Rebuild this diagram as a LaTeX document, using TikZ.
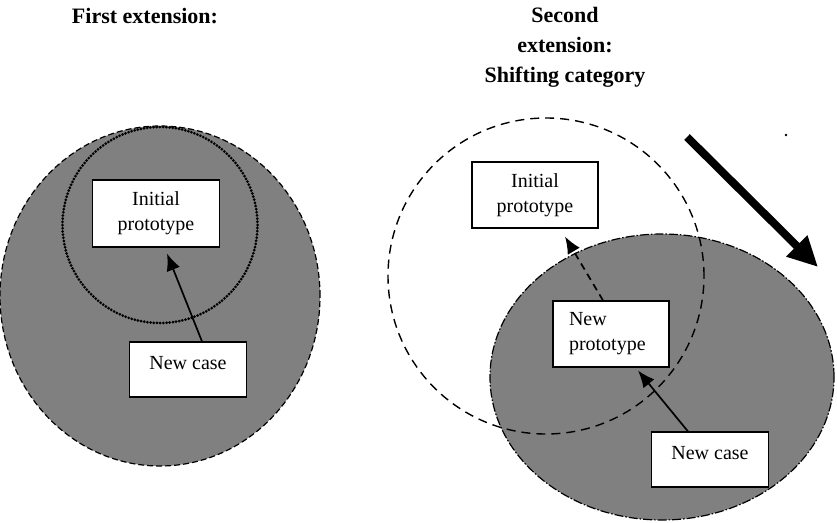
\documentclass[tikz,border=0pt]{standalone}
\usepackage{fontspec}
\setmainfont{Liberation Serif}
\usetikzlibrary{positioning}
\usetikzlibrary{arrows.meta,shapes.geometric}
\tikzset{
    every picture/.style={x=1pt,y=-1pt},
    link/.style={draw,line width=1.7pt,-{Latex[length=17pt,width=14pt]}},
    protobox/.style={draw,fill=white,line width=1.1pt,inner sep=0pt,font=\fontsize{20}{25}\selectfont},
    casebox/.style={protobox,minimum width=117pt,minimum height=55pt,text height=14pt,text depth=14pt},
    category/.style={ellipse,inner sep=0pt,line width=1.2pt},
    heading/.style={font=\bfseries\fontsize{22}{30}\selectfont,align=center,anchor=base},
}
\begin{document}
\begin{tikzpicture}
\useasboundingbox (0,0) rectangle (837,522);

% headings
\node[heading] (t1) at (145,23) {First extension:};
\node[heading] (t2) at (565,82) {Second\\extension:\\Shifting category};

% first extension
\node[category,draw,fill=black!50,dash pattern=on 6pt off 3pt,minimum width=320pt,minimum height=340pt] (cat1) at (160,296) {};
\node[category,draw,line width=3pt,line cap=round,dash pattern=on 0pt off 3.2pt,minimum width=195pt,minimum height=196pt] (core1) at (160,225) {};
\node[protobox,align=center,minimum width=127pt,minimum height=67pt] (init1) at (156,213.5) {Initial\\prototype};
\node[casebox] (case1) at (188,369.5) {New case};

\path
([xshift=14pt]case1.north) edge[link] ([xshift=11pt,yshift=-6pt]init1.south)
;

% second extension
\node[category,draw,fill=black!50,dash pattern=on 9pt off 2pt on 1.5pt off 2pt,minimum width=344pt,minimum height=286pt] (cat2) at (662,377) {};
\node[category,draw,line width=1.4pt,dash pattern=on 9pt off 6pt,minimum width=316pt,minimum height=316pt] (old2) at (546,276) {};
\node[protobox,align=center,minimum width=126pt,minimum height=66pt] (init2) at (535,195) {Initial\\prototype};
\node[protobox,align=left,text width=84pt,inner xsep=16pt,minimum width=116pt,minimum height=66pt] (newp) at (611,334) {New\\prototype};
\node[casebox] (case2) at (710,459.5) {New case};

\path
([xshift=-22pt]case2.north) edge[link] ([xshift=27pt,yshift=-3pt]newp.south)
([xshift=-8pt]newp.north) edge[link,dash pattern=on 7pt off 5pt] ([xshift=30pt,yshift=-8pt]init2.south)
;

% shift of the category
\coordinate (s1) at (687,137);
\coordinate (s2) at (818,267);
\draw[line width=8pt,-{Triangle[length=30pt,width=28pt]}] (s1) -- (s2);
\node[circle,fill,inner sep=1pt] (dot) at (786,135) {};

\end{tikzpicture}
\end{document}
